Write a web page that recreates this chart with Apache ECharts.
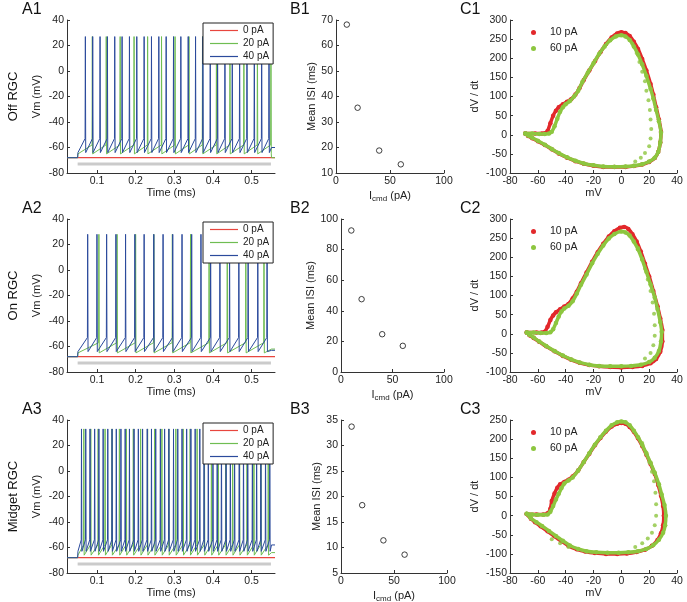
<!DOCTYPE html>
<html><head><meta charset="utf-8">
<script src="https://cdn.jsdelivr.net/npm/echarts@6/dist/echarts.min.js"></script>
<style>html,body{margin:0;padding:0;background:#fff}#c{width:687px;height:602px}</style>
</head><body><div id="c"></div>
<script>
// ================= DATA =================
const rowNames = ['Off RGC', 'On RGC', 'Midget RGC'];
const panelLabelsA = ['A1', 'A2', 'A3'];
const panelLabelsB = ['B1', 'B2', 'B3'];
const panelLabelsC = ['C1', 'C2', 'C3'];
const traceNames = ['0 pA', '20 pA', '40 pA'];
const loopNames = ['10 pA', '60 pA'];
const timeTicks = [0.1, 0.2, 0.3, 0.4, 0.5];
const timeRange = [0.0225, 0.5605];
const stimOn = 0.05, stimOff = 0.55;
const restV = -68;
const stimBarV = -73;

// spike times (s)
const a1Spikes20 = [0.088, 0.124, 0.160, 0.196, 0.231, 0.267, 0.302, 0.338, 0.373, 0.409, 0.444, 0.480, 0.515, 0.550];
const a1Spikes40 = [0.070, 0.089, 0.108, 0.127, 0.146, 0.165, 0.184, 0.203, 0.222, 0.241, 0.260, 0.279, 0.298, 0.317, 0.336, 0.355, 0.374, 0.393, 0.412, 0.431, 0.450, 0.469, 0.488, 0.507, 0.526, 0.545];
const a2Spikes20 = [0.105, 0.152, 0.200, 0.247, 0.295, 0.342, 0.390, 0.437, 0.485, 0.532];
const a2Spikes40 = [0.076, 0.100, 0.125, 0.149, 0.174, 0.198, 0.222, 0.247, 0.271, 0.296, 0.320, 0.345, 0.369, 0.394, 0.418, 0.443, 0.467, 0.491, 0.516, 0.540];
const a3Spikes20 = [0.066, 0.084, 0.103, 0.121, 0.139, 0.158, 0.176, 0.194, 0.213, 0.231, 0.249, 0.268, 0.286, 0.304, 0.323, 0.341, 0.359, 0.378, 0.396, 0.414, 0.433, 0.451, 0.469, 0.488, 0.506, 0.524, 0.543];
const a3Spikes40 = [0.060, 0.071, 0.082, 0.094, 0.105, 0.116, 0.128, 0.139, 0.150, 0.162, 0.173, 0.184, 0.196, 0.207, 0.218, 0.230, 0.241, 0.252, 0.264, 0.275, 0.286, 0.298, 0.309, 0.320, 0.332, 0.343, 0.354, 0.366, 0.377, 0.388, 0.400, 0.411, 0.422, 0.434, 0.445, 0.456, 0.468, 0.479, 0.490, 0.502, 0.513, 0.524, 0.536, 0.547];
// voltage levels (mV) of each trace: pre-spike, peak, trough, level after stimulus
const a1Levels20 = [-58, 27, -65, -68];
const a1Levels40 = [-53, 27, -64, -60];
const a2Levels20 = [-57, 28, -65, -62];
const a2Levels40 = [-53, 28, -64, -63];
const a3Levels20 = [-58, 33, -66, -64];
const a3Levels40 = [-54, 33, -63, -58];

// B: mean ISI vs command current
const iCmd = [10, 20, 40, 60];
const b1ISI = [68.2, 35.6, 18.8, 13.4];
const b2ISI = [92.5, 47.6, 24.7, 17.1];
const b3ISI = [33.7, 18.3, 11.4, 8.6];

// C: phase plots [mV, dV/dt]
const c1Loop10 = [[-69,3],[-62,3],[-57,3],[-55,4],[-53,10],[-51,30],[-49,50],[-47,63],[-45,72],[-42,80],[-39,86],[-36,93],[-33,105],[-30,122],[-27,143],[-23,168],[-19,192],[-15,216],[-11,237],[-7,254],[-3,265],[0,268],[3,266],[6,258],[9,243],[12,224],[15,198],[18,168],[21,133],[23,105],[25,72],[27,40],[28.5,8],[28,-20],[26.5,-45],[24,-61],[20,-71],[15,-78],[9,-82],[3,-84],[-5,-84.5],[-13,-84],[-20,-81],[-27,-76],[-33,-69],[-39,-60],[-45,-49],[-50,-38],[-55,-27],[-60,-17],[-64,-9],[-67,-3],[-69,3]];
const c1Loop60 = [[-69,3],[-64,3],[-59,2],[-55,2],[-52,3],[-50,8],[-48,22],[-46,42],[-44,60],[-42,72],[-40,80],[-37,88],[-34,100],[-31,115],[-28,138],[-24,163],[-20,187],[-16,211],[-12,231],[-8,247],[-4,257],[0,260],[3,257],[6,248],[9,231],[12,210],[15,184],[18,154],[21,120],[23,95],[25,65],[27,35],[28.5,5],[28,-20],[26.5,-45],[24,-60],[20,-70],[15,-77],[9,-81],[3,-83],[-5,-83.5],[-13,-83],[-20,-80],[-27,-75],[-33,-68],[-39,-59],[-45,-48],[-50,-37],[-55,-26],[-60,-16],[-64,-8],[-67,-2],[-69,3]];
const c1Inner60 = [[8,238],[11,214],[13,190],[15,165],[17,140],[18,115],[19.5,90],[20.5,65],[21,40],[21.5,15],[21,-10],[20,-30],[17,-48],[14,-60],[10,-70]];
const c2Loop10 = [[-68,3],[-61,3],[-57,3],[-55,5],[-53,18],[-51,36],[-49,48],[-47,56],[-44,64],[-41,71],[-38,78],[-35,92],[-32,110],[-29,132],[-25,160],[-21,188],[-17,213],[-13,235],[-9,254],[-5,268],[-1,277],[2,279],[5,274],[8,260],[11,241],[14,215],[17,183],[20,150],[23,112],[26,72],[28,40],[29.5,10],[29.5,-20],[28,-47],[25,-66],[21,-77],[15,-84],[8,-87],[0,-88],[-8,-87],[-16,-85],[-23,-82],[-30,-76],[-36,-68],[-42,-58],[-48,-46],[-54,-33],[-59,-21],[-63,-11],[-66,-4],[-68,3]];
const c2Loop60 = [[-68,3],[-63,3],[-58,2],[-54,2],[-51,4],[-49,12],[-47,28],[-45,45],[-43,58],[-41,66],[-38,73],[-35,85],[-32,105],[-29,128],[-25,155],[-21,184],[-17,209],[-13,231],[-9,249],[-5,261],[0,267],[3,265],[6,257],[9,241],[12,221],[15,194],[18,162],[21,129],[24,95],[26,65],[28,30],[29,5],[28.5,-20],[27,-45],[24,-63],[20,-74],[14,-81],[7,-84],[0,-85],[-8,-85],[-16,-84],[-23,-81],[-30,-75],[-36,-67],[-42,-57],[-48,-45],[-54,-32],[-59,-20],[-63,-10],[-66,-3],[-68,3]];
const c2Inner60 = [[12,225],[15,196],[17,170],[19,142],[21,112],[22.5,82],[23.5,52],[24,22],[24,-5],[23,-30],[21,-50],[17,-65]];
const c3Loop10 = [[-68,4],[-61,3],[-56,3],[-53,6],[-51,18],[-50,38],[-48,58],[-46,73],[-44,82],[-41,88],[-38,94],[-35,102],[-31,118],[-27,140],[-23,162],[-19,184],[-15,203],[-11,220],[-7,233],[-3,240],[0,242],[3,240],[6,232],[9,219],[12,202],[15,182],[18,159],[21,135],[24,109],[26.5,80],[28.5,52],[30,25],[30.5,0],[30,-25],[28.5,-46],[26,-64],[22,-79],[17,-89],[11,-95],[4,-99],[-3,-100],[-11,-100],[-19,-98],[-26,-94],[-32,-88],[-38,-79],[-43,-67],[-48,-54],[-53,-41],[-58,-28],[-62,-17],[-65,-8],[-68,4]];
const c3Loop60 = [[-68,5],[-64,3],[-60,2],[-56,2],[-53,3],[-51,10],[-49,25],[-47,42],[-45,57],[-43,72],[-41,84],[-38,92],[-35,100],[-31,118],[-27,140],[-23,163],[-19,185],[-15,205],[-11,222],[-7,236],[-3,244],[0,246],[3,244],[6,236],[9,222],[12,205],[15,185],[18,162],[21,138],[24,112],[27,82],[29,55],[31,28],[32,0],[31.5,-25],[30,-45],[27,-63],[23,-77],[18,-87],[12,-93],[5,-96],[-2,-97],[-10,-97],[-18,-96],[-25,-93],[-31,-87],[-37,-78],[-42,-66],[-47,-53],[-52,-40],[-57,-27],[-61,-17],[-65,-7],[-68,5]];
const c3Inner60 = [[15,190],[18,165],[20,140],[22,115],[23.5,90],[24.5,60],[25,30],[25,0],[24,-25],[22,-45],[19,-60],[15,-72],[10,-82],[-50,-62],[-44,-72],[-38,-82]];

// ================= BUILD =================
const FONT = 'Liberation Sans, Arial, Helvetica, sans-serif';
const RED = '#e8463e', GREEN = '#6fbd52', BLUE = '#2b4a9c', GRAY = '#cbcbcb';
const DRED = '#e2282b', DGREEN = '#8dc63f';

function buildTrace(spikes, lv) {
  const [pre, peak, trough, end] = lv;
  const pts = [[timeRange[0], restV], [stimOn, restV], [stimOn + 0.0008, trough]];
  spikes.forEach(t => {
    pts.push([t - 0.0007, pre], [t, peak], [t + 0.0009, trough]);
  });
  pts.push([stimOff + 0.0015, end], [timeRange[1], end]);
  return pts;
}

const rows = [
  {top: 20, h: 153, bLeft: 336, bW: 108},
  {top: 219, h: 153, bLeft: 341, bW: 103},
  {top: 420, h: 153, bLeft: 341, bW: 106}
];
const traceSets = [
  [a1Spikes20, a1Levels20, a1Spikes40, a1Levels40],
  [a2Spikes20, a2Levels20, a2Spikes40, a2Levels40],
  [a3Spikes20, a3Levels20, a3Spikes40, a3Levels40]
];
const isiSets = [b1ISI, b2ISI, b3ISI];
const isiAxes = [[10, 70, 10], [0, 100, 20], [5, 35, 5]];
const loopSets = [[c1Loop10, c1Loop60, c1Inner60], [c2Loop10, c2Loop60, c2Inner60], [c3Loop10, c3Loop60, c3Inner60]];
const cAxes = [[-100, 300], [-100, 300], [-150, 250]];

const grids = [], xAxes = [], yAxes = [], series = [], legends = [], graphics = [];
const axisCommon = {
  axisLine: {onZero: false, lineStyle: {color: '#333', width: 1}},
  axisTick: {inside: true, length: 3, lineStyle: {color: '#333'}},
  axisLabel: {fontSize: 10.5, color: '#222', fontFamily: FONT, margin: 3},
  splitLine: {show: false},
  nameTextStyle: {fontSize: 11, color: '#222', fontFamily: FONT}
};

rows.forEach((r, i) => {
  // ---- A ----
  let g = grids.length;
  grids.push({left: 67, top: r.top, width: 208, height: r.h, outerBoundsMode: 'none'});
  xAxes.push(Object.assign({}, axisCommon, {
    gridIndex: g, type: 'value', min: timeRange[0], max: timeRange[1],
    name: 'Time (ms)', nameLocation: 'middle', nameGap: 14,
    axisLabel: Object.assign({}, axisCommon.axisLabel, {customValues: timeTicks}),
    axisTick: Object.assign({}, axisCommon.axisTick, {customValues: timeTicks})
  }));
  yAxes.push(Object.assign({}, axisCommon, {
    gridIndex: g, type: 'value', min: -80, max: 40, interval: 20,
    name: 'Vm (mV)', nameLocation: 'middle', nameGap: 25
  }));
  const [s20, l20, s40, l40] = traceSets[i];
  series.push({type: 'line', xAxisIndex: g, yAxisIndex: g, data: [[stimOn, stimBarV], [stimOff, stimBarV]],
    symbol: 'none', lineStyle: {color: GRAY, width: 3}, silent: true, z: 1});
  series.push({name: traceNames[0], type: 'line', xAxisIndex: g, yAxisIndex: g,
    data: [[timeRange[0], restV], [timeRange[1], restV]], symbol: 'none',
    lineStyle: {color: RED, width: 1.2}, itemStyle: {color: RED}, z: 2});
  series.push({name: traceNames[1], type: 'line', xAxisIndex: g, yAxisIndex: g,
    data: buildTrace(s20, l20), symbol: 'none',
    lineStyle: {color: GREEN, width: 1}, itemStyle: {color: GREEN}, z: 3});
  series.push({name: traceNames[2], type: 'line', xAxisIndex: g, yAxisIndex: g,
    data: buildTrace(s40, l40), symbol: 'none',
    lineStyle: {color: BLUE, width: 1}, itemStyle: {color: BLUE}, z: 4});
  legends.push({data: traceNames.map(n => ({name: n, icon: 'rect'})), left: 203, top: r.top + 3, orient: 'vertical',
    itemWidth: 28, itemHeight: 1.2, itemGap: 2, padding: [2, 4, 2, 7], z: 20,
    borderColor: '#222', borderWidth: 1, backgroundColor: '#fff', borderRadius: 0,
    textStyle: {fontSize: 10, lineHeight: 11, color: '#222', fontFamily: FONT}, selectedMode: false});

  // ---- B ----
  g = grids.length;
  grids.push({left: r.bLeft, top: r.top, width: r.bW, height: r.h, outerBoundsMode: 'none'});
  xAxes.push(Object.assign({}, axisCommon, {
    gridIndex: g, type: 'value', min: 0, max: 100, interval: 50,
    name: '{n|I}{s|cmd}{n| (pA)}', nameLocation: 'middle', nameGap: 13,
    nameTextStyle: {fontFamily: FONT, color: '#222', rich: {
      n: {fontSize: 11, fontFamily: FONT, color: '#222', lineHeight: 12, verticalAlign: 'top'},
      s: {fontSize: 8, fontFamily: FONT, color: '#222', lineHeight: 8, verticalAlign: 'bottom', padding: [7, 0, 0, 0]}
    }}
  }));
  const [ymn, ymx, yiv] = isiAxes[i];
  yAxes.push(Object.assign({}, axisCommon, {
    gridIndex: g, type: 'value', min: ymn, max: ymx, interval: yiv,
    name: 'Mean ISI (ms)', nameLocation: 'middle', nameGap: i === 0 ? 15 : 19
  }));
  series.push({type: 'scatter', xAxisIndex: g, yAxisIndex: g,
    data: iCmd.map((x, k) => [x, isiSets[i][k]]), symbol: 'circle', symbolSize: 5.5,
    itemStyle: {color: '#fff', borderColor: '#111', borderWidth: 1}});

  // ---- C ----
  g = grids.length;
  grids.push({left: 510, top: r.top, width: 167, height: r.h, outerBoundsMode: 'none'});
  xAxes.push(Object.assign({}, axisCommon, {
    gridIndex: g, type: 'value', min: -80, max: 40, interval: 20,
    name: 'mV', nameLocation: 'middle', nameGap: 14
  }));
  yAxes.push(Object.assign({}, axisCommon, {
    gridIndex: g, type: 'value', min: cAxes[i][0], max: cAxes[i][1], interval: 50,
    name: 'dV / dt', nameLocation: 'middle', nameGap: 30
  }));
  const [l10, l60, in60] = loopSets[i];
  series.push({name: loopNames[0], type: 'line', xAxisIndex: g, yAxisIndex: g, data: l10,
    smooth: 0.2, symbol: 'circle', symbolSize: 4.5, showSymbol: true,
    lineStyle: {color: DRED, width: 3.5}, itemStyle: {color: DRED}, z: 3});
  series.push({name: loopNames[1], type: 'line', xAxisIndex: g, yAxisIndex: g, data: l60,
    smooth: 0.2, symbol: 'circle', symbolSize: 4.5, showSymbol: true,
    lineStyle: {color: DGREEN, width: 3.5}, itemStyle: {color: DGREEN}, z: 4});
  series.push({name: loopNames[1], type: 'scatter', xAxisIndex: g, yAxisIndex: g, data: in60,
    symbol: 'circle', symbolSize: 4, itemStyle: {color: DGREEN}, z: 4});
  legends.push({data: loopNames.map(n => ({name: n, icon: 'circle'})), left: 531, top: r.top + 7,
    orient: 'vertical', itemWidth: 5, itemHeight: 5, itemGap: 5, padding: 0, z: 20,
    textStyle: {fontSize: 10.5, color: '#222', fontFamily: FONT, padding: [0, 0, 0, 9]}, selectedMode: false});

  // ---- labels ----
  const ly = r.top - 18;
  [[panelLabelsA[i], 22], [panelLabelsB[i], 290], [panelLabelsC[i], 460]].forEach(([t, x]) => {
    graphics.push({type: 'text', left: x, top: ly, style: {text: t, fontSize: 16, fontFamily: FONT, fill: '#111'}});
  });
  graphics.push({type: 'text', x: 13.5, y: r.top + r.h / 2, rotation: Math.PI / 2,
    style: {text: rowNames[i], fontSize: 13, fontFamily: FONT, fill: '#111', align: 'center', verticalAlign: 'middle'}});
});

const chart = echarts.init(document.getElementById('c'), null, {renderer: 'canvas'});
chart.setOption({
  animation: false,
  backgroundColor: '#fff',
  textStyle: {fontFamily: FONT},
  grid: grids, xAxis: xAxes, yAxis: yAxes, series: series, legend: legends, graphic: graphics
});
</script></body></html>
